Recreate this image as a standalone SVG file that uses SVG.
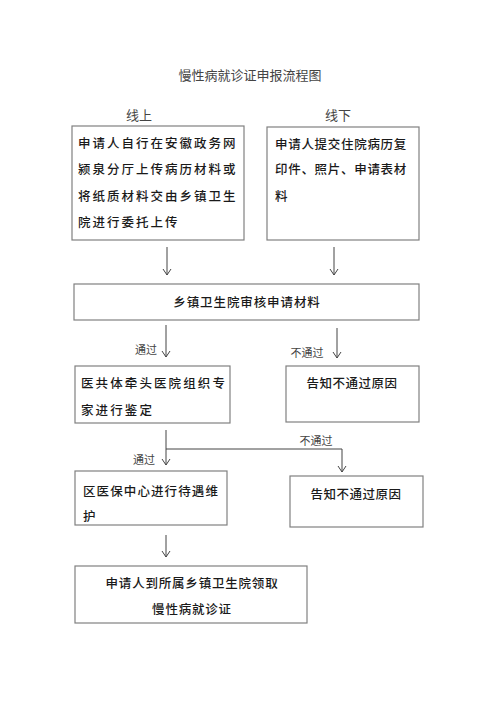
<svg xmlns="http://www.w3.org/2000/svg" width="500" height="707" viewBox="0 0 500 707">
<style>
.box{fill:#fff;stroke:#808080;stroke-width:1.2}
.t{font-family:"Noto Sans CJK SC","Noto Sans",sans-serif;font-size:12.5px;font-weight:500;fill:#1a1a1a}
.s{font-family:"Noto Sans CJK SC","Noto Sans",sans-serif;font-size:13px;fill:#444}
.l{font-family:"Noto Sans CJK SC","Noto Sans",sans-serif;font-size:11px;fill:#444}
.c{fill:none;stroke:#444;stroke-width:1}
</style>
<defs>
<marker id="ah" viewBox="0 0 7 10" refX="6.5" refY="5" markerWidth="7" markerHeight="10" markerUnits="userSpaceOnUse" orient="auto">
<path d="M0.5,1 L6.5,5 L0.5,9" fill="none" stroke="#444" stroke-width="1"/>
</marker>
</defs>
<rect width="500" height="707" fill="#fff"/>
<text class="s" x="250" y="80" text-anchor="middle">慢性病就诊证申报流程图</text>
<text class="s" x="139" y="120" text-anchor="middle">线上</text>
<text class="s" x="338" y="120" text-anchor="middle">线下</text>

<g id="n1">
<rect class="box" x="72" y="126" width="172" height="114"/>
<text class="t" x="78" y="148" letter-spacing="2">申请人自行在安徽政务网</text>
<text class="t" x="78" y="174" letter-spacing="2">颍泉分厅上传病历材料或</text>
<text class="t" x="78" y="201" letter-spacing="2">将纸质材料交由乡镇卫生</text>
<text class="t" x="78" y="227" letter-spacing="2">院进行委托上传</text>
</g>
<g id="n2">
<rect class="box" x="267" y="127" width="152" height="113"/>
<text class="t" x="275" y="149" letter-spacing="0.7">申请人提交住院病历复</text>
<text class="t" x="275" y="174" letter-spacing="0.7">印件、照片、申请表材</text>
<text class="t" x="275" y="201">料</text>
</g>
<g id="n3">
<rect class="box" x="74" y="284" width="345" height="36"/>
<text class="t" x="247" y="307" text-anchor="middle" letter-spacing="0.9">乡镇卫生院审核申请材料</text>
</g>
<g id="n4">
<rect class="box" x="75" y="366" width="155" height="57"/>
<text class="t" x="81" y="388" letter-spacing="2.1">医共体牵头医院组织专</text>
<text class="t" x="81" y="415" letter-spacing="2.1">家进行鉴定</text>
</g>
<g id="n5">
<rect class="box" x="286" y="366" width="133" height="56"/>
<text class="t" x="352" y="388" text-anchor="middle" letter-spacing="0.5">告知不通过原因</text>
</g>
<g id="n6">
<rect class="box" x="75" y="471" width="152" height="54"/>
<text class="t" x="83" y="496" letter-spacing="1.1">区医保中心进行待遇维</text>
<text class="t" x="83" y="521">护</text>
</g>
<g id="n7">
<rect class="box" x="290" y="476" width="133" height="51"/>
<text class="t" x="356" y="499" text-anchor="middle" letter-spacing="0.5">告知不通过原因</text>
</g>
<g id="n8">
<rect class="box" x="75" y="566" width="232" height="57"/>
<text class="t" x="192" y="588" text-anchor="middle" letter-spacing="0.8">申请人到所属乡镇卫生院领取</text>
<text class="t" x="192" y="614" text-anchor="middle" letter-spacing="0.8">慢性病就诊证</text>
</g>

<g id="connectors">
<line class="c" x1="167" y1="247" x2="167" y2="275" marker-end="url(#ah)"/>
<line class="c" x1="334" y1="247" x2="334" y2="275" marker-end="url(#ah)"/>
<line class="c" x1="166" y1="325" x2="166" y2="357" marker-end="url(#ah)"/>
<line class="c" x1="337" y1="328" x2="337" y2="358" marker-end="url(#ah)"/>
<polyline class="c" points="166,430 166,465" marker-end="url(#ah)"/>
<polyline class="c" points="166,449 342,449 342,472" marker-end="url(#ah)"/>
<line class="c" x1="166" y1="535" x2="166" y2="557" marker-end="url(#ah)"/>
<text class="l" x="146" y="354" text-anchor="middle">通过</text>
<text class="l" x="307" y="357" text-anchor="middle">不通过</text>
<text class="l" x="316" y="445" text-anchor="middle">不通过</text>
<text class="l" x="144" y="464" text-anchor="middle">通过</text>
</g>
</svg>
